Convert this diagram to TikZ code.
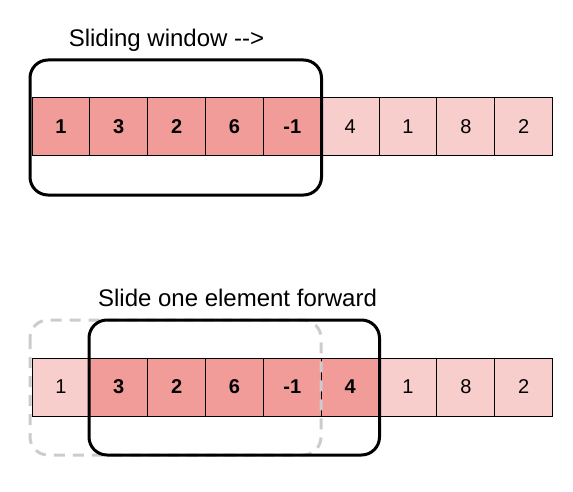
\documentclass[tikz,border=0pt]{standalone}
\usepackage{fontspec}
\setmainfont{Liberation Sans}
\definecolor{cellhot}{HTML}{F19C99}
\definecolor{cellcold}{HTML}{F8CECC}
\definecolor{ghost}{HTML}{CCCCCC}
\begin{document}
\begin{tikzpicture}[x=1pt,y=-1pt,
  cell/.style={draw=black, line width=1pt, minimum width=57.85pt, minimum height=58pt,
    inner sep=0pt, outer sep=0pt, anchor=north west, font=\fontsize{20}{24}\selectfont},
  hot/.style={cell, fill=cellhot, font=\fontsize{20}{24}\selectfont\bfseries},
  cold/.style={cell, fill=cellcold},
  window/.style={draw=black, line width=3pt, rounded corners=18pt},
  ghostwin/.style={draw=ghost, line width=3pt, rounded corners=18pt, dash pattern=on 11pt off 8pt},
  title/.style={font=\fontsize{24}{28}\selectfont}]
\useasboundingbox (0,0) rectangle (573,492);
% top row
\node[hot]  (t1) at (32,98) {1};
\node[hot]  (t2) at (t1.north east) [anchor=north west] {3};
\node[hot]  (t3) at (t2.north east) [anchor=north west] {2};
\node[hot]  (t4) at (t3.north east) [anchor=north west] {6};
\node[hot]  (t5) at (t4.north east) [anchor=north west] {-1};
\node[cold] (t6) at (t5.north east) [anchor=north west] {4};
\node[cold] (t7) at (t6.north east) [anchor=north west] {1};
\node[cold] (t8) at (t7.north east) [anchor=north west] {8};
\node[cold] (t9) at (t8.north east) [anchor=north west] {2};
\draw[window] (30,60) rectangle (321.5,195);
\node[title] (tt) at (166.5,40) {Sliding window {-}{-}>};
% bottom row
\node[cold] (b1) at (32,358) {1};
\node[hot]  (b2) at (b1.north east) [anchor=north west] {3};
\node[hot]  (b3) at (b2.north east) [anchor=north west] {2};
\node[hot]  (b4) at (b3.north east) [anchor=north west] {6};
\node[hot]  (b5) at (b4.north east) [anchor=north west] {-1};
\node[hot]  (b6) at (b5.north east) [anchor=north west] {4};
\node[cold] (b7) at (b6.north east) [anchor=north west] {1};
\node[cold] (b8) at (b7.north east) [anchor=north west] {8};
\node[cold] (b9) at (b8.north east) [anchor=north west] {2};
\draw[ghostwin] (30,320) rectangle (321,455);
\draw[window] (89,320) rectangle (379.5,455);
\node[title] (bt) at (237.5,298) {Slide one element forward};
\end{tikzpicture}
\end{document}
